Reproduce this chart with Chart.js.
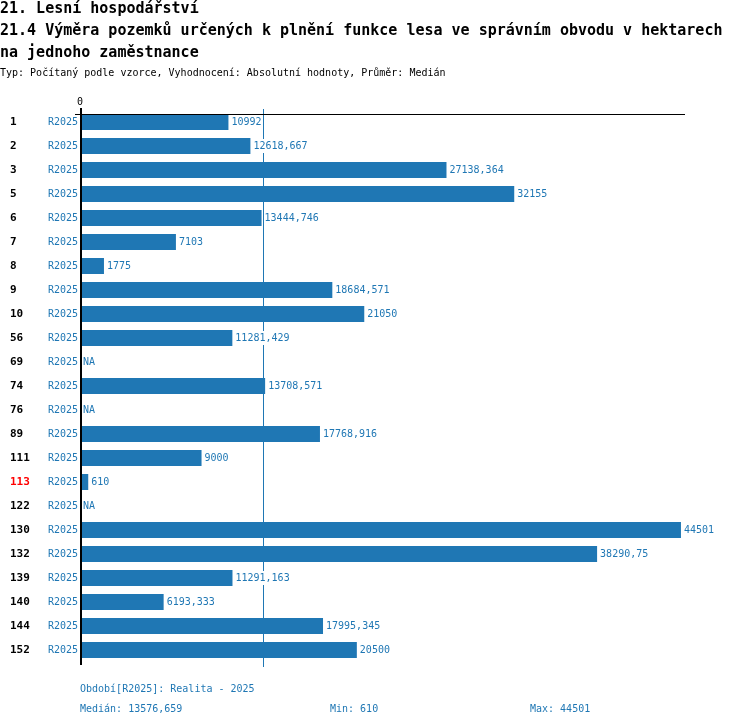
<!DOCTYPE html>
<html>
<head>
<meta charset="utf-8">
<script src="https://cdn.jsdelivr.net/npm/chart.js@4"></script>
<style>
  html, body { margin: 0; padding: 0; background: #fff; }
  canvas { display: block; }
</style>
</head>
<body>
<canvas id="chart" width="750" height="726"></canvas>
<script>
/* Lesni hospodarstvi - 21.4 */

const ids = ['1', '2', '3', '5', '6', '7', '8', '9', '10', '56', '69', '74', '76', '89',
    '111', '113', '122', '130', '132', '139', '140', '144', '152'];
const periods = ['R2025', 'R2025', 'R2025', 'R2025', 'R2025', 'R2025', 'R2025', 'R2025',
    'R2025', 'R2025', 'R2025', 'R2025', 'R2025', 'R2025', 'R2025', 'R2025', 'R2025',
    'R2025', 'R2025', 'R2025', 'R2025', 'R2025', 'R2025'];
const values = [10992, 12618.667, 27138.364, 32155, 13444.746, 7103, 1775, 18684.571,
    21050, 11281.429, null, 13708.571, null, 17768.916, 9000, 610, null, 44501,
    38290.75, 11291.163, 6193.333, 17995.345, 20500];
const xTicks = [0];
const highlightId = '113';

const titleLines = [
    '21. Lesní hospodářství',
    '21.4 Výměra pozemků určených k plnění funkce lesa ve správním obvodu v hektarech',
    'na jednoho zaměstnance'
];
const subtitle = 'Typ: Počítaný podle vzorce, Vyhodnocení: Absolutní hodnoty, Průměr: Medián';
const periodNote = 'Období[R2025]: Realita - 2025';
const median = 13576.659;
const minValue = 610;
const maxValue = 44501;

const BLUE = '#1f77b4';
const MONO = '"DejaVu Sans Mono", "Liberation Mono", monospace';

function fmt(v) {
    return String(v).replace('.', ',');
}

// Titles, footer, axis lines, value labels
const decorPlugin = {
    id: 'decor',
    beforeDatasetsDraw: (chart) => {
        const { ctx, chartArea: { top, bottom }, scales: { x } } = chart;
        const mx = Math.round(x.getPixelForValue(median));
        ctx.save();
        ctx.fillStyle = BLUE;
        ctx.fillRect(mx, top - 1, 1, bottom - top + 6);
        ctx.restore();
    },
    afterDatasetsDraw: (chart) => {
        const { ctx, chartArea: { top, bottom, left, right }, scales: { x, y } } = chart;
        ctx.save();

        // value labels
        ctx.font = '10px ' + MONO;
        ctx.textBaseline = 'middle';
        values.forEach((v, i) => {
            const text = v === null ? 'NA' : fmt(v);
            const px = x.getPixelForValue(v === null ? 0 : v) + 3;
            const py = y.getPixelForValue(i);
            const w = ctx.measureText(text).width;
            ctx.fillStyle = '#fff';
            ctx.fillRect(px, py - 7, w + 1, 14);
            ctx.fillStyle = BLUE;
            ctx.textAlign = 'left';
            ctx.fillText(text, px, py + 0.5);
        });

        // period labels next to the axis
        ctx.textAlign = 'right';
        periods.forEach((p, i) => {
            ctx.fillStyle = BLUE;
            ctx.fillText(p, left - 2, y.getPixelForValue(i) + 0.5);
        });

        // axis lines
        const zx = Math.round(x.getPixelForValue(0));
        ctx.fillStyle = '#000';
        ctx.fillRect(left - 5, top + 4, right - left + 5, 1);
        ctx.fillRect(zx, top - 2, 2, bottom - top + 5);
        ctx.restore();
    },
    afterDraw: (chart) => {
        const { ctx } = chart;
        ctx.save();
        ctx.textAlign = 'left';
        ctx.textBaseline = 'alphabetic';
        ctx.fillStyle = '#000';
        ctx.font = 'bold 15px ' + MONO;
        titleLines.forEach((t, i) => ctx.fillText(t, 0, 13 + i * 22));
        ctx.font = '10px ' + MONO;
        ctx.fillText(subtitle, 0, 76);

        ctx.fillStyle = BLUE;
        ctx.font = '10px ' + MONO;
        ctx.fillText(periodNote, 80, 692);
        ctx.fillText('Medián: ' + fmt(median), 80, 712);
        ctx.fillText('Min: ' + fmt(minValue), 330, 712);
        ctx.fillText('Max: ' + fmt(maxValue), 530, 712);
        ctx.restore();
    }
};

const config = {
    type: 'bar',
    data: {
        labels: ids,
        datasets: [
            {
                label: 'R2025',
                data: values,
                backgroundColor: BLUE,
                borderWidth: 0,
                categoryPercentage: 1,
                barPercentage: 16 / 24
            }
        ]
    },
    options: {
        indexAxis: 'y',
        responsive: false,
        devicePixelRatio: 1,
        animation: false,
        layout: {
            padding: { left: 10, right: 65, top: 90, bottom: 64 }
        },
        scales: {
            x: {
                position: 'top',
                min: 0,
                max: 44800,
                grid: { display: false, drawTicks: false },
                border: { display: false },
                afterBuildTicks: (scale) => {
                    scale.ticks = xTicks.map(v => ({ value: v }));
                },
                afterFit: (scale) => { scale.height = 20; },
                ticks: {
                    padding: 2,
                    color: '#000',
                    font: { family: MONO, size: 10 },
                    callback: (v) => String(v)
                }
            },
            y: {
                grid: { display: false, drawTicks: false },
                border: { display: false },
                afterFit: (scale) => { scale.width = 70; },
                ticks: {
                    crossAlign: 'far',
                    autoSkip: false,
                    padding: 0,
                    color: (c) => ids[c.index] === highlightId ? '#ff0000' : '#000',
                    font: { family: MONO, size: 11, weight: 'bold' }
                }
            }
        },
        plugins: {
            legend: { display: false },
            title: { display: false },
            tooltip: { enabled: false }
        }
    },
    plugins: [decorPlugin]
};

new Chart(document.getElementById('chart').getContext('2d'), config);
</script>
</body>
</html>
